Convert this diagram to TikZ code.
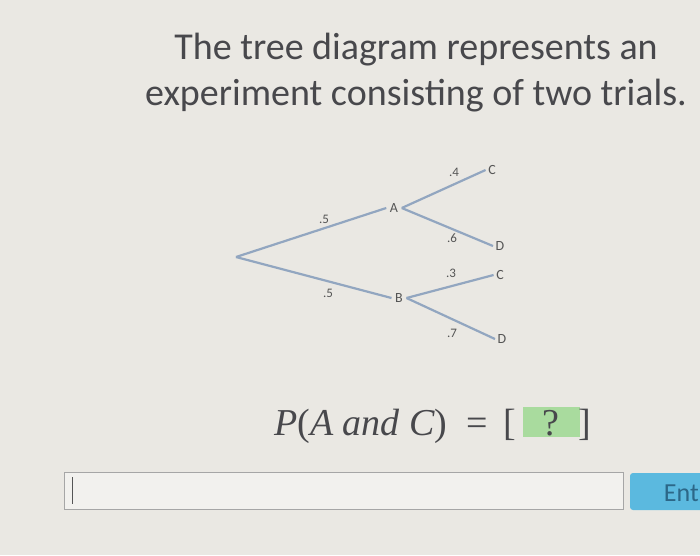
\documentclass[tikz,border=0pt]{standalone}
\usepackage{fontspec}
\setmainfont{Carlito}
\newfontfamily\eqfont{Liberation Serif}
\begin{document}
\begin{tikzpicture}[x=1pt,y=-1pt,
  branch/.style={draw=lineblue, line width=2.2pt},
  lbl/.style={text=labgrey, font=\fontsize{13}{13}\selectfont, inner sep=0pt},
  evt/.style={text=labgrey, font=\fontsize{14}{14}\selectfont, inner sep=3.5pt},
  eq/.style={text=txt, font=\eqfont\fontsize{38}{38}\selectfont, inner sep=0pt, anchor=base west}]
\definecolor{bg}{HTML}{EAE8E3}
\definecolor{lineblue}{HTML}{92A6C0}
\definecolor{labgrey}{HTML}{555555}
\definecolor{txt}{HTML}{48484C}
\definecolor{ansgreen}{HTML}{A9DB9E}
\definecolor{btn}{HTML}{5BB9DF}
\definecolor{btntxt}{HTML}{2C6788}
\useasboundingbox (0,0) rectangle (700,555);
\fill[bg] (0,0) rectangle (700,555);
% title
\node[text=txt, font=\fontsize{38}{46}\selectfont, align=center, inner sep=0pt] (title) at (416,73)
  {The tree diagram represents an\\experiment consisting of two trials.};
% tree
\coordinate (root) at (236,257);
\node[evt] (A) at (394,208) {A};
\node[evt] (B) at (399,298) {B};
\node[evt, inner sep=2.5pt] (C1) at (492,170) {C};
\node[evt, inner sep=2.5pt] (D1) at (500,246) {D};
\node[evt, inner sep=2.5pt] (C2) at (500,275) {C};
\node[evt, inner sep=2.5pt] (D2) at (502,339) {D};
\draw[branch] (root) -- (A.west);
\draw[branch] (root) -- (B.west);
\draw[branch] (A.east) -- (C1.west);
\draw[branch] (A.east) -- (D1.west);
\draw[branch] (B.east) -- (C2.west);
\draw[branch] (B.east) -- (D2.west);
\node[lbl] (p1) at (324,219) {.5};
\node[lbl] (p2) at (328,293) {.5};
\node[lbl] (p3) at (454,172) {.4};
\node[lbl] (p4) at (452,238) {.6};
\node[lbl] (p5) at (451,273) {.3};
\node[lbl] (p6) at (452,333) {.7};
% formula
\fill[ansgreen] (523,407) rectangle (580,437);
\node[eq] (eqL) at (274,435) {\textit{P}(\textit{A and C})};
\node[eq, anchor=base] (eqs) at (477,435) {=};
\node[eq] (lb) at (503,435) {[};
\node[eq, anchor=base] (q) at (551,435) {?};
\node[eq] (rb) at (578,435) {]};
% input box
\draw[draw=gray!70, fill=bg!60!white, line width=0.8pt] (64,472) rectangle (623,509);
\draw[labgrey, line width=1pt] (72,477) -- (72,504);
\fill[btn, rounded corners=3pt] (630,473) rectangle (712,510);
\node[text=btntxt, font=\fontsize{26}{26}\selectfont, anchor=base east, inner sep=0pt] (ent) at (699,501) {Ent};
\end{tikzpicture}
\end{document}
